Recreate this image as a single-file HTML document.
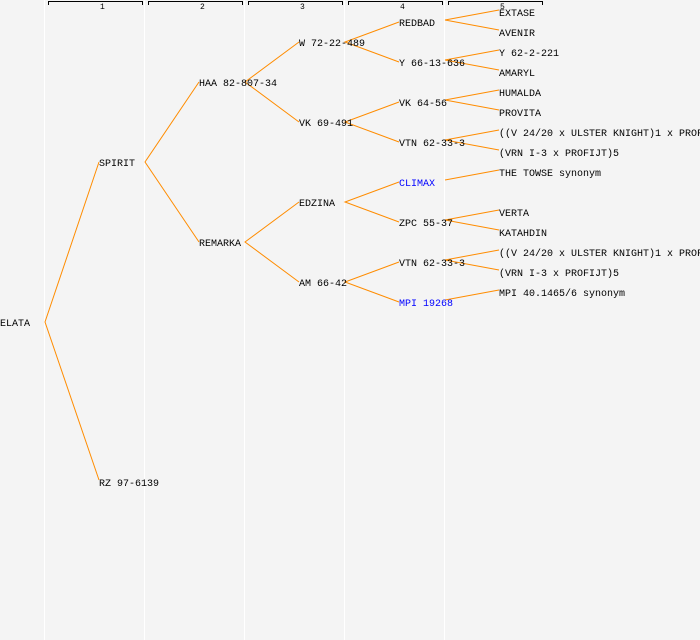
<!DOCTYPE html>
<html><head><style>
html,body{margin:0;padding:0;background:#f4f4f4;}
svg{display:block;}
text{font-family:"Liberation Mono","DejaVu Sans Mono",monospace;font-size:10px;fill:#000;}
.h{font-size:8px;}
.b{fill:#0000ff;}
</style></head><body>
<svg width="700" height="640" viewBox="0 0 700 640">
<rect width="700" height="640" fill="#f4f4f4"/>
<g stroke="#fff" stroke-width="1">
<line x1="44.5" y1="0" x2="44.5" y2="640"/><line x1="144.5" y1="0" x2="144.5" y2="640"/>
<line x1="244.5" y1="0" x2="244.5" y2="640"/><line x1="344.5" y1="0" x2="344.5" y2="640"/>
<line x1="444.5" y1="0" x2="444.5" y2="640"/>
</g>
<g stroke="#000" fill="none" stroke-width="1">
<path d="M48.5 5V1.5H142.5V5"/><path d="M148.5 5V1.5H242.5V5"/><path d="M248.5 5V1.5H342.5V5"/><path d="M348.5 5V1.5H442.5V5"/><path d="M448.5 5V1.5H542.5V5"/>
</g>
<text class="h" x="100" y="9">1</text><text class="h" x="200" y="9">2</text><text class="h" x="300" y="9">3</text><text class="h" x="400" y="9">4</text><text class="h" x="500" y="9">5</text>
<g stroke="#ff8c00" stroke-width="1" fill="none">
<path d="M99 162L45 322L99 480"/>
<path d="M199 82L145 162L199 242"/>
<path d="M299 42L245 82L299 122"/><path d="M299 202L245 242L299 282"/>
<path d="M399 22L345 42L399 62"/><path d="M399 102L345 122L399 142"/>
<path d="M399 182L345 202L399 222"/><path d="M399 262L345 282L399 302"/>
<path d="M499 10L445 20L499 30"/><path d="M499 50L445 60L499 70"/>
<path d="M499 90L445 100L499 110"/><path d="M499 130L445 140L499 150"/>
<path d="M445 180L499 170"/><path d="M499 210L445 220L499 230"/>
<path d="M499 250L445 260L499 270"/><path d="M445 300L499 290"/>
</g>
<g>
<text x="0" y="326">ELATA</text>
<text x="99" y="166">SPIRIT</text><text x="99" y="486">RZ 97-6139</text>
<text x="199" y="86">HAA 82-807-34</text><text x="199" y="246">REMARKA</text>
<text x="299" y="46">W 72-22-489</text><text x="299" y="126">VK 69-491</text>
<text x="299" y="206">EDZINA</text><text x="299" y="286">AM 66-42</text>
<text x="399" y="26">REDBAD</text><text x="399" y="66">Y 66-13-636</text>
<text x="399" y="106">VK 64-56</text><text x="399" y="146">VTN 62-33-3</text>
<text x="399" y="186" class="b">CLIMAX</text><text x="399" y="226">ZPC 55-37</text>
<text x="399" y="266">VTN 62-33-3</text><text x="399" y="306" class="b">MPI 19268</text>
<text x="499" y="16">EXTASE</text><text x="499" y="36">AVENIR</text>
<text x="499" y="56">Y 62-2-221</text><text x="499" y="76">AMARYL</text>
<text x="499" y="96">HUMALDA</text><text x="499" y="116">PROVITA</text>
<text x="499" y="136">((V 24/20 x ULSTER KNIGHT)1 x PROFIJT)</text><text x="499" y="156">(VRN I-3 x PROFIJT)5</text>
<text x="499" y="176">THE TOWSE synonym</text>
<text x="499" y="216">VERTA</text><text x="499" y="236">KATAHDIN</text>
<text x="499" y="256">((V 24/20 x ULSTER KNIGHT)1 x PROFIJT)</text><text x="499" y="276">(VRN I-3 x PROFIJT)5</text>
<text x="499" y="296">MPI 40.1465/6 synonym</text>
</g>
</svg>
</body></html>
